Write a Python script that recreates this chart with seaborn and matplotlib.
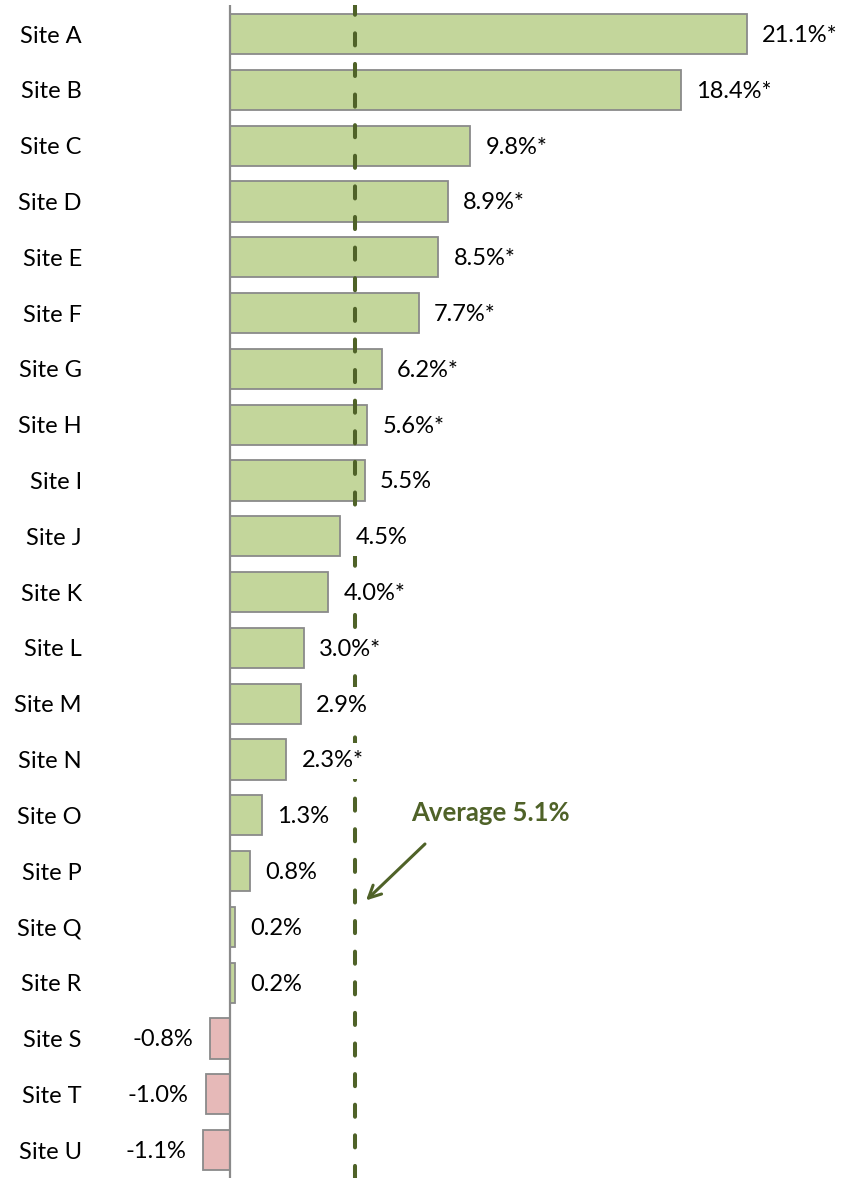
import pandas as pd
import matplotlib.pyplot as plt
import seaborn as sns

# Data
sites = ["Site A", "Site B", "Site C", "Site D", "Site E", "Site F", "Site G",
         "Site H", "Site I", "Site J", "Site K", "Site L", "Site M", "Site N",
         "Site O", "Site P", "Site Q", "Site R", "Site S", "Site T", "Site U"]
values = [21.1, 18.4, 9.8, 8.9, 8.5, 7.7, 6.2, 5.6, 5.5, 4.5, 4.0, 3.0, 2.9, 2.3,
          1.3, 0.8, 0.2, 0.2, -0.8, -1.0, -1.1]
significant = [True, True, True, True, True, True, True, True, False, False, True,
               True, False, True, False, False, False, False, False, False, False]
average = 5.1

df = pd.DataFrame({"site": sites, "value": values, "sig": significant})
df["sign"] = ["pos" if v >= 0 else "neg" for v in values]

sns.set_theme(style="white")
plt.rcParams["font.family"] = ["Lato", "DejaVu Sans"]

fig = plt.figure(figsize=(8.44, 11.78), dpi=100)
ax = fig.add_axes([95 / 844, 0.0, (844 - 95) / 844, (1178 - 5) / 1178])

sns.barplot(data=df, y="site", x="value", hue="sign", dodge=False,
            palette={"pos": "#C3D69B", "neg": "#E6B9B8"}, saturation=1,
            width=0.72, edgecolor="#8A8A8A", linewidth=1.3, legend=False,
            ax=ax, orient="h")

ax.set_xlim(-5.51, 25.06)
ax.set_ylim(20.5, -0.52)
for s in ax.spines.values():
    s.set_visible(False)
ax.set_xticks([])
ax.set_xlabel("")
ax.set_ylabel("")
ax.tick_params(axis="y", length=0, pad=9.5, labelsize=17, labelcolor="black")

# zero axis
ax.axvline(0, color="#8A8A8A", lw=1.6, zorder=3)

# average line
ax.axvline(average, color="#4F6228", lw=2.9, linestyle=(0, (3.0, 4.6)),
           dash_capstyle="round", zorder=4)

# value labels (white boxes hide the dashed line, like the original)
box = dict(boxstyle="square,pad=0.32", fc="white", ec="none")
for i, (v, sig) in enumerate(zip(values, significant)):
    txt = f"{v:.1f}%" + ("*" if sig else "")
    if v >= 0:
        ax.annotate(txt, (v, i), xytext=(11, -1), textcoords="offset points",
                    ha="left", va="center", fontsize=17, color="black",
                    bbox=box, zorder=5)
    else:
        ax.annotate(txt, (v, i), xytext=(-12, -1), textcoords="offset points",
                    ha="right", va="center", fontsize=17, color="black",
                    bbox=box, zorder=5)

# average annotation
ax.annotate("", xy=(5.47, 15.56), xytext=(8.04, 14.48),
            arrowprops=dict(arrowstyle="->", color="#4F6228", lw=2.2,
                            mutation_scale=22))
ax.text(10.65, 13.96, f"Average {average}%", color="#4F6228", fontsize=18.5,
        fontweight="bold", ha="center", va="center")

fig.savefig("out.png", dpi=100)
